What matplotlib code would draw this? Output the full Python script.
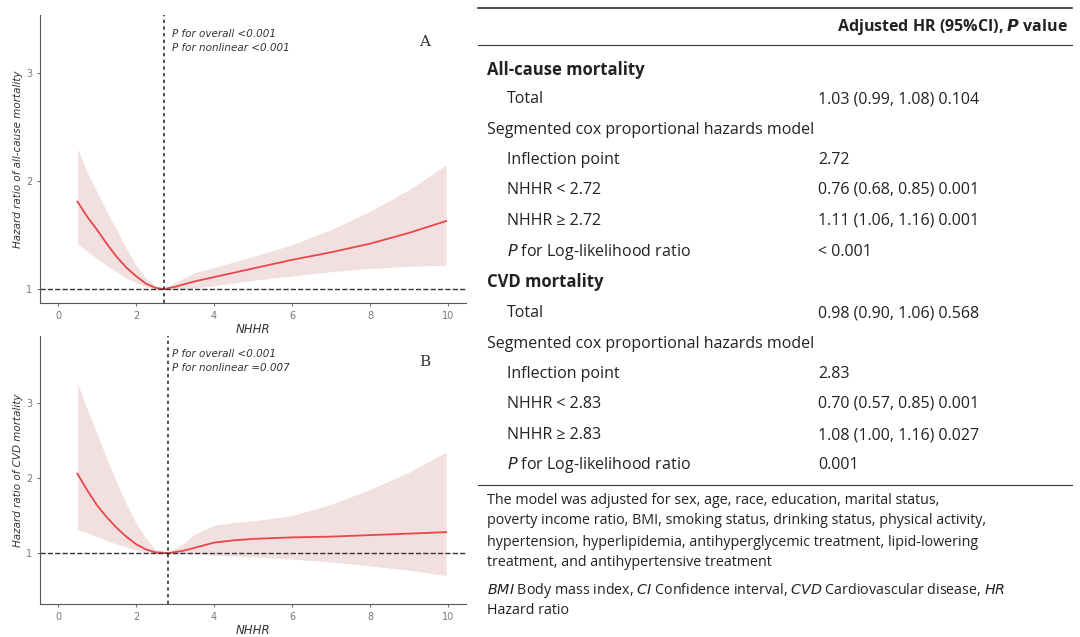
import matplotlib
matplotlib.use("Agg")
import matplotlib.pyplot as plt
import numpy as np

W, H = 1080, 637
xA = [0.5, 0.75, 1, 1.25, 1.5, 1.75, 2, 2.25, 2.5, 2.72, 3, 3.5, 4, 5, 6, 7, 8, 9, 9.95]
mA = [1.81, 1.67, 1.55, 1.42, 1.3, 1.2, 1.12, 1.05, 1.01, 1.0, 1.02, 1.07, 1.11, 1.19, 1.27, 1.34, 1.42, 1.52, 1.63]
loA = [1.42, 1.35, 1.28, 1.22, 1.16, 1.1, 1.06, 1.02, 1.0, 0.995, 0.995, 1.01, 1.03, 1.08, 1.12, 1.16, 1.19, 1.21, 1.22]
hiA = [2.3, 2.08, 1.9, 1.72, 1.55, 1.38, 1.22, 1.1, 1.03, 1.0, 1.06, 1.15, 1.2, 1.3, 1.41, 1.55, 1.72, 1.92, 2.15]
xB = [0.5, 0.75, 1, 1.25, 1.5, 1.75, 2, 2.25, 2.5, 2.83, 3.2, 3.5, 4, 4.5, 5, 6, 7, 8, 9, 9.95]
mB = [2.06, 1.84, 1.64, 1.48, 1.34, 1.22, 1.12, 1.05, 1.01, 1.0, 1.03, 1.07, 1.14, 1.17, 1.19, 1.21, 1.22, 1.24, 1.26, 1.28]
loB = [1.31, 1.27, 1.22, 1.17, 1.12, 1.08, 1.04, 1.01, 0.99, 0.99, 0.99, 0.99, 0.97, 0.96, 0.95, 0.92, 0.88, 0.83, 0.77, 0.70]
hiB = [3.27, 2.92, 2.6, 2.26, 1.95, 1.66, 1.4, 1.2, 1.05, 1.02, 1.12, 1.25, 1.37, 1.41, 1.43, 1.5, 1.65, 1.85, 2.08, 2.35]

fig = plt.figure(figsize=(10.8, 6.37), dpi=100)

def px(l, t, r, b):
    return [l / W, 1 - b / H, (r - l) / W, (b - t) / H]

def panel(rect, x, m, lo, hi, cut, ylim, ylabel, p2, letter):
    ax = fig.add_axes(px(*rect))
    ax.fill_between(x, lo, hi, color="#f2dfe0", lw=0)
    ax.plot(x, m, color="#e8474a", lw=1.3)
    ax.axhline(1, color="#333", ls="--", lw=1)
    ax.axvline(cut, color="#333", ls=(0, (2, 2)), lw=1.2)
    ax.set_xlim(-0.46, 10.46)
    ax.set_ylim(*ylim)
    ax.set_xticks([0, 2, 4, 6, 8, 10])
    ax.set_yticks([1, 2, 3])
    ax.tick_params(labelsize=7, colors="#777", length=2)
    for s in ["top", "right"]:
        ax.spines[s].set_visible(False)
    for s in ["left", "bottom"]:
        ax.spines[s].set_color("#555")
    ax.set_xlabel("NHHR", style="italic", fontsize=8.5, color="#333", labelpad=2)
    ax.set_ylabel(ylabel, style="italic", fontsize=7.5, color="#333", labelpad=2)
    ax.text(0.31, 0.95, "P for overall <0.001\n" + p2, transform=ax.transAxes,
            style="italic", fontsize=7.5, va="top", color="#333", linespacing=1.5)
    ax.text(0.89, 0.93, letter, transform=ax.transAxes, family="DejaVu Serif",
            fontsize=11, va="top", color="#333")
    return ax

panel((40, 15, 466, 303), xA, mA, loA, hiA, 2.72, (0.87, 3.54),
      "Hazard ratio of all-cause mortality", "P for nonlinear <0.001", "A")
panel((40, 336, 466, 604), xB, mB, loB, hiB, 2.83, (0.32, 3.9),
      "Hazard ratio of CVD mortality", "P for nonlinear =0.007", "B")

# table
def T(x, y, s, **kw):
    fig.text(x / W, 1 - y / H, s, va="center", fontsize=kw.pop("fs", 11.5), color="#222",
             family="Open Sans", **kw)

def rule(y, lw):
    fig.add_artist(plt.Line2D([478 / W, 1072 / W], [1 - y / H] * 2, color="#333", lw=lw))

rule(8, 1.2); rule(45, 0.8); rule(485, 0.8)
T(1068, 27, r"Adjusted HR (95%CI), $\mathbfit{P}$ value", ha="right", weight="bold")

labels = ["All-cause mortality", "Total", "Segmented cox proportional hazards model",
          "Inflection point", "NHHR < 2.72", "NHHR ≥ 2.72", "P for Log-likelihood ratio",
          "CVD mortality", "Total", "Segmented cox proportional hazards model",
          "Inflection point", "NHHR < 2.83", "NHHR ≥ 2.83", "P for Log-likelihood ratio"]
values = ["", "1.03 (0.99, 1.08) 0.104", "", "2.72", "0.76 (0.68, 0.85) 0.001",
          "1.11 (1.06, 1.16) 0.001", "< 0.001", "", "0.98 (0.90, 1.06) 0.568", "",
          "2.83", "0.70 (0.57, 0.85) 0.001", "1.08 (1.00, 1.16) 0.027", "0.001"]
ys = [70, 99, 130, 160, 190, 221, 252, 282, 313, 344, 374, 404, 435, 465]
for lab, val, y in zip(labels, values, ys):
    if lab.endswith("mortality"):
        T(487, y, lab, weight="bold", fs=12)
    elif lab.startswith("Segmented"):
        T(487, y, lab)
    elif lab.startswith("P for"):
        T(507, y, r"$\mathit{P}$" + lab[1:])
    else:
        T(507, y, lab)
    if val:
        T(818, y, val)

foot = ["The model was adjusted for sex, age, race, education, marital status,",
        "poverty income ratio, BMI, smoking status, drinking status, physical activity,",
        "hypertension, hyperlipidemia, antihyperglycemic treatment, lipid-lowering",
        "treatment, and antihypertensive treatment"]
for i, s in enumerate(foot):
    T(487, 500 + i * 21, s, fs=10.3)
T(487, 590, r"$\mathit{BMI}$ Body mass index, $\mathit{CI}$ Confidence interval, "
    r"$\mathit{CVD}$ Cardiovascular disease, $\mathit{HR}$", fs=10.3)
T(487, 611, "Hazard ratio", fs=10.3)

fig.savefig("out.png", dpi=100)
